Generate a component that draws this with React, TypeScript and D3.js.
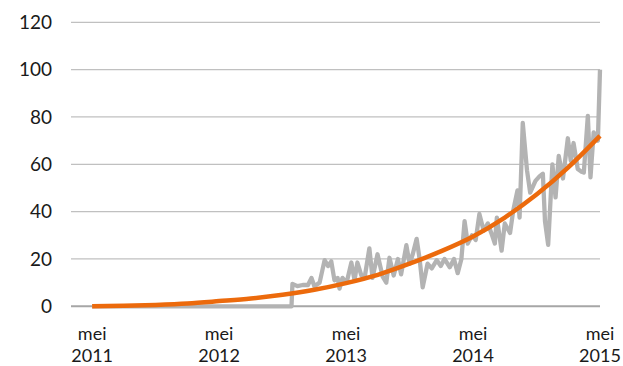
import React from "react";
import * as d3 from "d3";

// months since Jan 2011 (May 2011 = 4)
const actualMonths = [4, 22.84, 22.93, 23.4, 23.9, 24.4, 24.73, 25.0, 25.5, 25.97, 26.3, 26.6, 26.9, 27.2, 27.38, 27.66, 28.05, 28.5, 28.8, 29.07, 29.45, 29.75, 30.2, 30.5, 30.97, 31.46, 31.8, 32.1, 32.5, 32.9, 33.2, 33.7, 34.0, 34.3, 34.67, 34.95, 35.24, 35.7, 36.1, 36.57, 36.95, 37.3, 37.8, 38.2, 38.55, 38.9, 39.2, 39.5, 39.9, 40.25, 40.6, 41.0, 41.4, 41.8, 42.06, 42.25, 42.7, 43.0, 43.5, 43.8, 44.2, 44.4, 44.7, 45.1, 45.4, 45.9, 46.3, 46.6, 46.8, 47.1, 47.5, 47.8, 48.1, 48.5, 48.96, 49.24, 49.5, 49.9, 50.2, 50.47, 50.85, 51.1, 51.4, 51.8, 52.0];
const actualValues = [0, 0, 9.5, 8.5, 9, 9, 12, 8.5, 10, 19.5, 17, 19, 11, 12, 7.5, 12, 10, 18.5, 11, 18.5, 13, 12, 24.5, 12, 22, 12.5, 10, 20.5, 13, 20, 13.5, 25.8, 18, 22, 28.5, 20, 8, 18, 16, 19.5, 17, 20, 16.5, 20, 14, 20, 36, 26.5, 30, 28, 39, 32, 35, 30, 26.5, 37.5, 23.5, 35, 31, 40.5, 49, 37.5, 77.5, 57.5, 48, 53, 55, 56, 36, 26, 60, 46, 63.5, 54, 71, 61.5, 69, 58, 57, 56.5, 80.5, 54.5, 73.5, 70, 100];

const trendMonths = [4, 7, 10, 13, 16, 19, 22, 25, 28, 31, 34, 37, 40, 43, 46, 49, 52];
const trendValues = [0, 0.2, 0.6, 1.2, 2.2, 3.3, 4.9, 7.0, 9.8, 13.3, 18.0, 23.3, 29.5, 37.5, 47.2, 58.7, 72];

const yTicks = [0, 20, 40, 60, 80, 100, 120];
const xTickMonths = [4, 16, 28, 40, 52];
const xTickMonthLabel = ["mei", "mei", "mei", "mei", "mei"];
const xTickYearLabel = ["2011", "2012", "2013", "2014", "2015"];

export default function App() {
  const W = 623, H = 366;
  const x = d3.scaleLinear().domain([2, 52]).range([71, 600]);
  const y = d3.scaleLinear().domain([0, 120]).range([306.3, 22.3]);

  const actual = actualMonths.map((m, i) => [m, actualValues[i]] as [number, number]);
  const trend = trendMonths.map((m, i) => [m, trendValues[i]] as [number, number]);

  const lineA = d3.line<[number, number]>().x(d => x(d[0])).y(d => y(d[1]));
  const lineT = d3.line<[number, number]>().x(d => x(d[0])).y(d => y(d[1])).curve(d3.curveMonotoneX);

  const font = "Lato, 'Open Sans', sans-serif";

  return (
    <svg width={W} height={H} style={{ position: "absolute", left: 0, top: 0, background: "#fff" }}>
      {yTicks.map(t => (
        <g key={t}>
          <line x1={71} x2={600} y1={y(t)} y2={y(t)}
            stroke={t === 0 ? "#a6a6a6" : "#c0c0c0"} strokeWidth={t === 0 ? 2 : 1.2} />
          <text x={52} y={y(t)} dy="0.36em" textAnchor="end" fontFamily={font} fontSize={19} fill="#1a1a1a">{t}</text>
        </g>
      ))}
      {xTickMonths.map((m, i) => (
        <text key={m} x={x(m)} y={340} textAnchor="middle" fontFamily={font} fontSize={18} fill="#1a1a1a">
          <tspan x={x(m)}>{xTickMonthLabel[i]}</tspan>
          <tspan x={x(m)} dy={21.8}>{xTickYearLabel[i]}</tspan>
        </text>
      ))}
      <path d={lineA(actual) || ""} fill="none" stroke="#b3b3b3" strokeWidth={4.3} strokeLinejoin="round" />
      <path d={lineT(trend) || ""} fill="none" stroke="#ec6a0c" strokeWidth={4.5} strokeLinecap="butt" />
    </svg>
  );
}
